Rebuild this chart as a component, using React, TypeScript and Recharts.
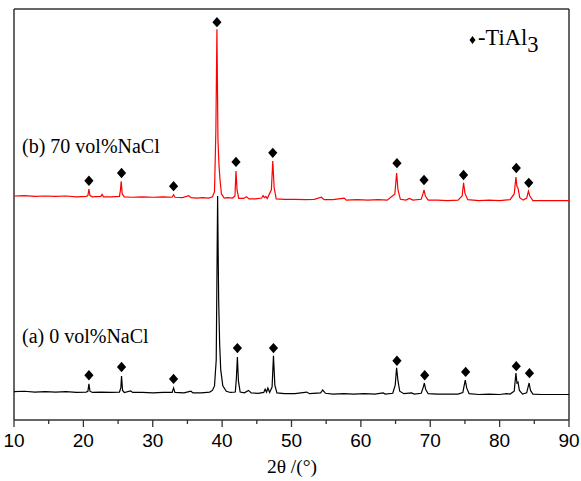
import React from "react";
import {
  ComposedChart,
  Line,
  Scatter,
  XAxis,
  YAxis,
  ReferenceLine,
  Customized,
} from "recharts";

// 2θ (deg) / intensity (a.u.) pairs
const patternA0NaCl: [number, number][] = [
  [10, 69], [11.5, 70], [13, 68], [14.5, 69], [16, 68], [17.5, 69], [19, 67], [20.4, 68],
  [20.65, 70], [20.8, 88], [20.95, 70], [21.3, 67], [22.5, 68], [24, 67], [25.2, 68],
  [25.4, 78], [25.5, 107], [25.65, 72], [25.9, 67], [26.8, 71], [27.1, 67], [28.5, 67],
  [30, 66], [31.5, 67], [32.8, 67], [33.0, 78], [33.2, 67], [34.5, 66], [35.5, 70],
  [35.8, 66], [37, 66], [38.2, 68], [38.6, 72], [38.9, 83], [39.15, 146], [39.35, 545],
  [39.5, 292], [39.65, 182], [39.8, 122], [40.1, 83], [40.6, 70], [41.2, 67], [41.9, 68],
  [42.05, 100], [42.2, 153], [42.35, 95], [42.6, 68], [43.2, 66], [43.8, 72], [44.2, 66],
  [45.2, 65], [46.0, 67], [46.2, 75], [46.4, 68], [46.6, 78], [46.85, 67], [47.2, 80],
  [47.4, 156], [47.6, 85], [47.9, 66], [49, 64], [50.5, 64], [52.2, 68], [52.6, 64],
  [54.2, 66], [54.5, 73], [54.9, 65], [56, 63], [57.5, 64], [59, 63], [60.5, 64], [62, 63],
  [63.2, 66], [63.5, 63], [64.6, 65], [64.95, 85], [65.15, 127], [65.35, 95], [65.6, 70],
  [66.2, 64], [67.3, 66], [67.7, 63], [68.7, 65], [69.0, 80], [69.15, 90], [69.35, 74],
  [69.7, 64], [71, 63], [72.5, 63], [74, 63], [74.7, 67], [74.9, 85], [75.05, 97],
  [75.25, 78], [75.6, 64], [77, 62], [78.5, 63], [80, 62], [81, 64], [81.5, 63], [82.1, 70],
  [82.35, 114], [82.5, 90], [82.65, 92], [82.85, 72], [83.3, 63], [83.9, 66], [84.1, 80],
  [84.25, 90], [84.45, 72], [84.8, 63], [86, 62], [87.5, 62], [90, 62],
];

const patternB70NaCl: [number, number][] = [
  [10, 545], [11.5, 546], [13, 544], [14.5, 545], [16, 544], [17.5, 545], [19, 543],
  [20.4, 544], [20.65, 546], [20.8, 562], [20.95, 546], [21.3, 543], [22.5, 544],
  [22.7, 549], [22.9, 543], [24, 543], [25.2, 544], [25.35, 560], [25.45, 581], [25.6, 550],
  [25.9, 543], [27, 542], [28.5, 543], [30, 542], [31.5, 543], [32.8, 542], [33.0, 548],
  [33.2, 542], [34.3, 541], [35.2, 546], [35.5, 541], [36.4, 540], [37.2, 541], [38.1, 540],
  [38.6, 543], [38.9, 555], [39.1, 706], [39.25, 951], [39.4, 681], [39.55, 620],
  [39.7, 584], [39.9, 550], [40.3, 540], [40.8, 541], [41.5, 540], [41.85, 545], [42.0, 606],
  [42.15, 560], [42.4, 539], [43.1, 539], [43.5, 543], [43.9, 538], [44.8, 538], [45.7, 540],
  [45.9, 546], [46.1, 541], [46.3, 544], [46.5, 539], [47.1, 560], [47.3, 630], [47.5, 565],
  [47.8, 538], [49, 537], [50.5, 537], [52, 536], [53.3, 537], [54.3, 542], [54.7, 536],
  [56, 536], [57.6, 540], [57.9, 535], [59.5, 536], [61, 535], [62.5, 536], [63.8, 535],
  [64.9, 550], [65.15, 601], [65.35, 560], [65.7, 537], [66.5, 535], [67.0, 539],
  [67.5, 535], [68.7, 537], [68.95, 550], [69.1, 560], [69.3, 545], [69.7, 535], [71, 535],
  [72.5, 534], [74, 535], [74.6, 545], [74.8, 577], [75.0, 552], [75.4, 536], [77, 534],
  [78.5, 535], [80, 534], [81.5, 536], [82.1, 550], [82.35, 591], [82.5, 568], [82.65, 564],
  [82.9, 541], [83.4, 535], [83.9, 540], [84.15, 557], [84.35, 545], [84.8, 534], [86, 534],
  [87.5, 534], [90, 534],
];

// TiAl3 peak markers (2θ, height)
const markersA: [number, number][] = [
  [20.8, 109], [25.5, 129], [33.0, 100], [42.2, 175], [47.4, 175], [65.2, 144],
  [69.2, 109], [75.1, 117], [82.4, 131], [84.3, 114],
];
const markersB: [number, number][] = [
  [20.8, 582], [25.5, 601], [33.0, 569], [39.25, 968], [42.0, 628], [47.3, 650],
  [65.2, 625], [69.1, 584], [74.8, 596], [82.4, 613], [84.2, 577],
];

const xTicks = [10, 15, 20, 25, 30, 35, 40, 45, 50, 55, 60, 65, 70, 75, 80, 85, 90];
const labelA = "(a) 0 vol%NaCl";
const labelB = "(b) 70 vol%NaCl";
const legendText = "-TiAl";
const legendSub = "3";
const xTitle = "2θ /(°)";

const toPts = (arr: [number, number][]) => arr.map(([x, y]) => ({ x, y }));
const dataA = toPts(patternA0NaCl);
const dataB = toPts(patternB70NaCl);
const mA = toPts(markersA);
const mB = toPts(markersB);

const SERIF = "'Liberation Serif', 'Times New Roman', serif";
const SANS = "'Liberation Sans', Arial, sans-serif";

const Diamond = (props: any) => {
  const { cx, cy } = props;
  if (cx == null || cy == null) return null;
  const w = 4.6;
  const h = 5.2;
  return (
    <polygon
      points={`${cx},${cy - h} ${cx + w},${cy} ${cx},${cy + h} ${cx - w},${cy}`}
      fill="#000"
    />
  );
};

const Tick = (props: any) => {
  const { x, y, payload } = props;
  const major = payload.value % 10 === 0;
  return (
    <g>
      <line x1={x} x2={x} y1={y} y2={y + (major ? 7 : 4)} stroke="#333" strokeWidth={1.3} />
      {major && (
        <text x={x} y={y + 27} textAnchor="middle" fontFamily={SANS} fontSize={19} fill="#000">
          {payload.value}
        </text>
      )}
    </g>
  );
};

const Annotations = () => (
  <g>
    <text x={22} y={153} fontFamily={SERIF} fontSize={20} fill="#000">
      {labelB}
    </text>
    <text x={22} y={343} fontFamily={SERIF} fontSize={20} fill="#000">
      {labelA}
    </text>
    <polygon points="472.5,36 475.5,40 472.5,44 469.5,40" fill="#000" />
    <text x={478} y={45} fontFamily={SERIF} fontSize={22.5} fill="#000">
      {legendText}
      <tspan dy={7}>{legendSub}</tspan>
    </text>
    <text x={292} y={473} textAnchor="middle" fontFamily={SERIF} fontSize={19.5} fill="#000">
      {xTitle}
    </text>
  </g>
);

export default function App() {
  return (
    <div style={{ position: "absolute", left: 0, top: 0, background: "#fff" }}>
      <ComposedChart
        width={581}
        height={481}
        margin={{ top: 9, right: 12, left: 14, bottom: 0 }}
      >
        <XAxis
          dataKey="x"
          type="number"
          domain={[10, 90]}
          ticks={xTicks}
          interval={0}
          allowDataOverflow
          tickLine={false}
          tickSize={0}
          tickMargin={0}
          tick={<Tick />}
          axisLine={{ stroke: "#333", strokeWidth: 1.5 }}
          height={61}
        />
        <YAxis dataKey="y" type="number" domain={[0, 1000]} hide allowDataOverflow />
        <ReferenceLine x={10} stroke="#333" strokeWidth={1.5} />
        <ReferenceLine x={90} stroke="#333" strokeWidth={1.5} />
        <ReferenceLine y={1000} stroke="#333" strokeWidth={1.5} />
        <Line
          data={dataA}
          dataKey="y"
          type="linear"
          stroke="#000"
          strokeWidth={1.2}
          dot={false}
          activeDot={false}
          isAnimationActive={false}
        />
        <Line
          data={dataB}
          dataKey="y"
          type="linear"
          stroke="#ff0000"
          strokeWidth={1.2}
          dot={false}
          activeDot={false}
          isAnimationActive={false}
        />
        <Scatter data={mA} dataKey="y" shape={<Diamond />} isAnimationActive={false} />
        <Scatter data={mB} dataKey="y" shape={<Diamond />} isAnimationActive={false} />
        <Customized component={<Annotations />} />
      </ComposedChart>
    </div>
  );
}
